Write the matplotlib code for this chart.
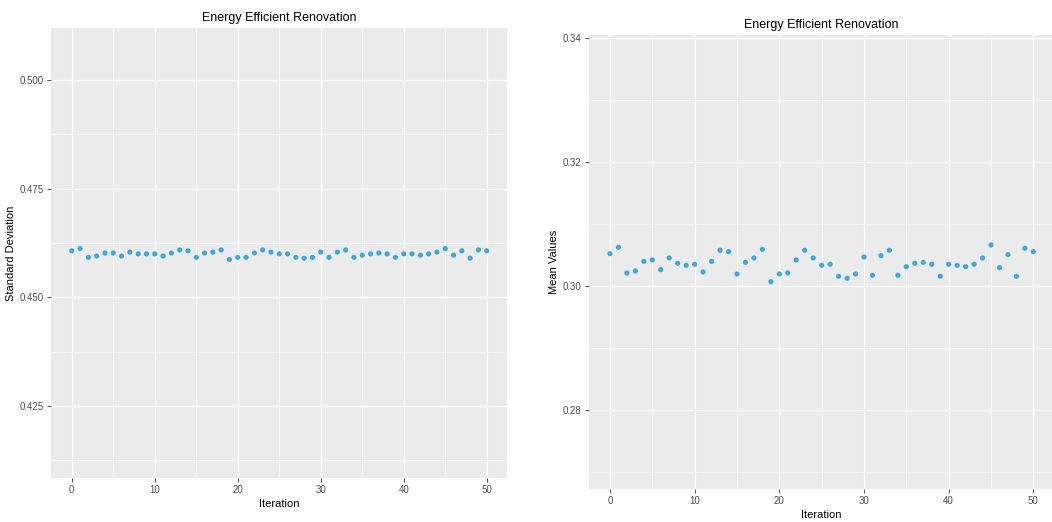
import numpy as np
import matplotlib.pyplot as plt
from matplotlib.ticker import MultipleLocator

plt.rcParams['font.family'] = ['Liberation Sans', 'DejaVu Sans']

iterations = list(range(51))

# standard deviation per iteration
std_values = [
    0.4607, 0.4612, 0.4592, 0.4595, 0.4602, 0.4602, 0.4595, 0.4604, 0.4600, 0.4600,
    0.4600, 0.4595, 0.4602, 0.4609, 0.4607, 0.4592, 0.4602, 0.4604, 0.4609, 0.4587,
    0.4592, 0.4592, 0.4602, 0.4609, 0.4604, 0.4600, 0.4600, 0.4592, 0.4590, 0.4592,
    0.4604, 0.4592, 0.4604, 0.4609, 0.4592, 0.4597, 0.4600, 0.4602, 0.4600, 0.4592,
    0.4600, 0.4600, 0.4597, 0.4600, 0.4604, 0.4612, 0.4597, 0.4607, 0.4590, 0.4609,
    0.4607,
]

# mean value per iteration
mean_values = [
    0.30521, 0.30623, 0.30209, 0.30242, 0.30397, 0.30419, 0.30263, 0.30451, 0.30365, 0.30333,
    0.30349, 0.30226, 0.30397, 0.30575, 0.30553, 0.30193, 0.30381, 0.30451, 0.30591, 0.30070,
    0.30193, 0.30209, 0.30419, 0.30575, 0.30451, 0.30333, 0.30349, 0.30156, 0.30124, 0.30193,
    0.30467, 0.30172, 0.30489, 0.30575, 0.30172, 0.30311, 0.30365, 0.30381, 0.30349, 0.30156,
    0.30349, 0.30333, 0.30311, 0.30349, 0.30451, 0.30660, 0.30295, 0.30505, 0.30156, 0.30607,
    0.30553,
]

title = "Energy Efficient Renovation"
point_color = "#3AABD8"


def gg_panel(ax, x, y, ylabel, ylim, ymajor, yfmt):
    ax.set_facecolor("#EBEBEB")
    for s in ax.spines.values():
        s.set_visible(False)
    ax.scatter(x, y, s=14, color=point_color, edgecolors="none", zorder=3)

    ax.set_xlim(-2.5, 52.5)
    ax.set_ylim(*ylim)
    ax.xaxis.set_major_locator(MultipleLocator(10))
    ax.xaxis.set_minor_locator(MultipleLocator(5))
    ax.yaxis.set_major_locator(MultipleLocator(ymajor))
    ax.yaxis.set_minor_locator(MultipleLocator(ymajor / 2))
    ax.yaxis.set_major_formatter(plt.FormatStrFormatter(yfmt))

    ax.grid(which="major", color="white", linewidth=0.9)
    ax.grid(which="minor", color="white", linewidth=0.45)
    ax.set_axisbelow(True)

    ax.tick_params(which="major", length=3, width=0.6, color="#333333",
                   labelsize=7, labelcolor="#4D4D4D", pad=2)
    ax.tick_params(which="minor", length=0)

    ax.set_title(title, fontsize=9, pad=5)
    ax.set_xlabel("Iteration", fontsize=8, labelpad=3)
    ax.set_ylabel(ylabel, fontsize=8, labelpad=3)


fig = plt.figure(figsize=(10.52, 5.22), dpi=100)

ax1 = fig.add_axes([0.0485, 0.0843, 0.4339, 0.8621])
gg_panel(ax1, iterations, std_values, "Standard Deviation",
         (0.4084, 0.5120), 0.025, "%.3f")

ax2 = fig.add_axes([0.5597, 0.0632, 0.4427, 0.8707])
gg_panel(ax2, iterations, mean_values, "Mean Values",
         (0.2673, 0.3405), 0.02, "%.2f")

fig.savefig("out.png", dpi=100)
